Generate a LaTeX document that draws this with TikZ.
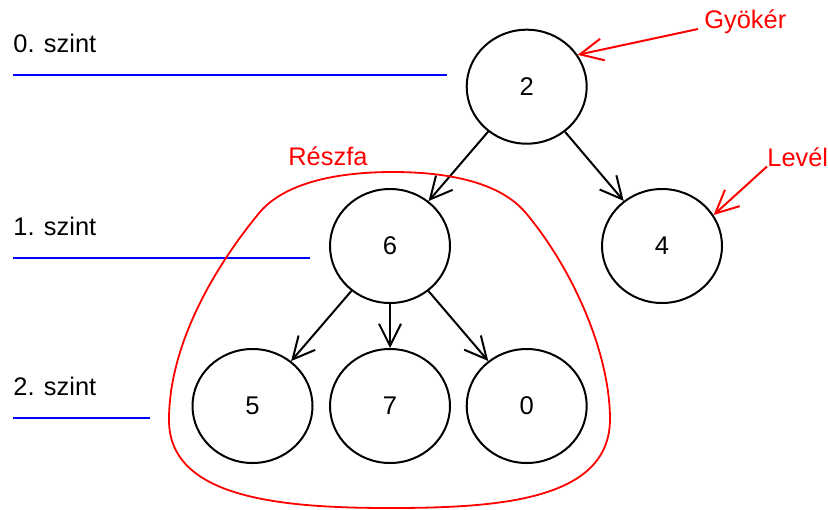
\documentclass[tikz,border=0pt]{standalone}
\usepackage{fontspec}
\setmainfont{Liberation Sans}
\usetikzlibrary{shapes.geometric,arrows.meta}

\begin{document}
\begin{tikzpicture}[x=0.5pt,y=-0.5pt,
  csucs/.style={draw,ellipse,line width=1pt,minimum width=60pt,minimum height=57pt,
    font=\fontsize{12.8}{15}\selectfont},
  el/.style={line width=1pt,-{Straight Barb[length=11pt,width=11pt]}},
  jelol/.style={red,line width=1pt,-{Straight Barb[length=11.5pt,width=11pt]}},
  szintvonal/.style={blue,line width=1pt},
  felirat/.style={anchor=base west,inner sep=0pt,font=\fontsize{12.7}{15}\selectfont}]

  \useasboundingbox (0,0) rectangle (828,509);

  % level labels with their lines
  \node[felirat] (szint0) at (13,52) {0. szint};
  \node[felirat] (szint1) at (13,235) {1. szint};
  \node[felirat] (szint2) at (13,395) {2. szint};
  \draw[szintvonal] (13,74.5) -- (447,74.5);
  \draw[szintvonal] (13,257.5) -- (310,257.5);
  \draw[szintvonal] (13,417.5) -- (150,417.5);

  % the tree
  \node[csucs] (n2) at (526.7,86.7) {2};
  \node[csucs] (n6) at (390,246) {6};
  \node[csucs] (n4) at (662,246) {4};
  \node[csucs] (n5) at (252.5,406) {5};
  \node[csucs] (n7) at (390,406) {7};
  \node[csucs] (n0) at (526.7,406) {0};

  \draw[el] (n2) -- (n6);
  \draw[el] (n2) -- (n4);
  \draw[el] (n6) -- (n5);
  \draw[el] (n6) -- (n7);
  \draw[el] (n6) -- (n0);

  % subtree outline
  \draw[red,line width=0.9pt] (393,172) .. controls (450,172) and (500,183) .. (525,212)
    .. controls (570,265) and (610,350) .. (610,420)
    .. controls (609,500) and (500,508) .. (390,508)
    .. controls (280,508) and (169,498) .. (169,420)
    .. controls (169,340) and (220,260) .. (260,212)
    .. controls (285,183) and (336,172) .. cycle;
  \node[felirat,red] (reszfa) at (288,165) {Részfa};

  % root and leaf markers
  \node[felirat,red] (gyoker) at (704,28) {Gyökér};
  \node[felirat,red] (level) at (767,166.5) {Levél};
  \draw[jelol] ([xshift=-3pt,yshift=-0.5pt]gyoker.base west) -- (n2.32);
  \draw[jelol] (level.base west) -- (n4.31);

\end{tikzpicture}
\end{document}
